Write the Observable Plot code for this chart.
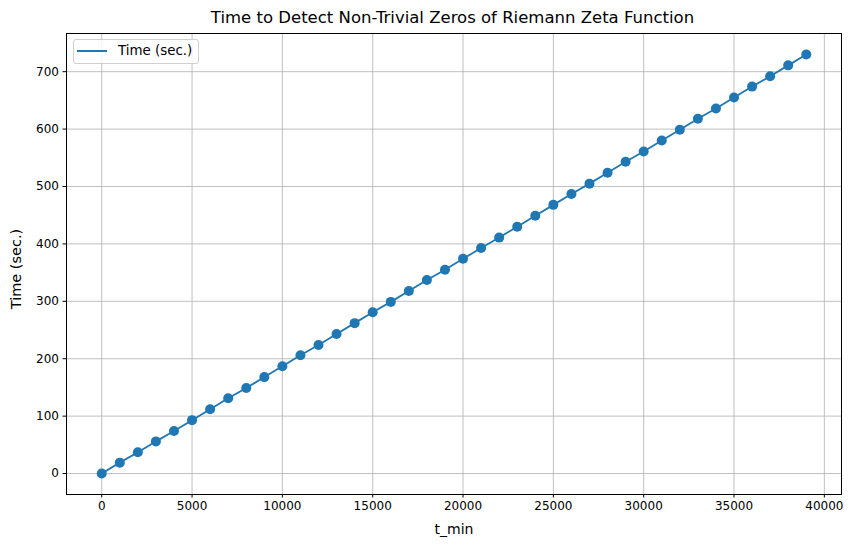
<!DOCTYPE html>
<html>
<head>
<meta charset="utf-8">
<script src="https://cdn.jsdelivr.net/npm/d3@7"></script>
<script src="https://cdn.jsdelivr.net/npm/@observablehq/plot@0.6"></script>
<style>
  body { margin: 0; background: #fff; font-family: "DejaVu Sans", sans-serif; }
  #wrap { position: relative; width: 855px; height: 547px; }
  #title { height: 26px; line-height: 35px; text-align: center; font-size: 16.5px; color: #000; padding-left: 50px; box-sizing: border-box; white-space: nowrap; }
  #legend { position: absolute; left: 73px; top: 39px; width: 126px; height: 25px; border: 1px solid #d0d0d0; border-radius: 3px; background: rgba(255,255,255,0.8); box-sizing: border-box; font-size: 13.4px; }
  #legend .sw { position: absolute; left: 3px; top: 10px; width: 30px; height: 2px; background: #1f77b4; }
  #legend .tx { position: absolute; left: 44px; top: 3px; white-space: nowrap; }
</style>
</head>
<body>
<div id="wrap">
  <div id="title">Time to Detect Non-Trivial Zeros of Riemann Zeta Function</div>
  <div id="chart"></div>
  <div id="legend"><div class="sw"></div><div class="tx">Time (sec.)</div></div>
</div>
<script>
const tMin = [0,1000,2000,3000,4000,5000,6000,7000,8000,9000,10000,11000,12000,13000,14000,15000,16000,17000,18000,19000,20000,21000,22000,23000,24000,25000,26000,27000,28000,29000,30000,31000,32000,33000,34000,35000,36000,37000,38000,39000];
const timeSec = [0,19,37,56,74,93,112,131,149,168,187,206,224,243,262,281,299,318,337,355,374,393,411,430,449,468,487,505,524,543,561,580,599,618,636,655,674,692,711,730];
const xTicks = [0,5000,10000,15000,20000,25000,30000,35000,40000];
const yTicks = [0,100,200,300,400,500,600,700];
const xLabel = "t_min";
const yLabel = "Time (sec.)";

const data = tMin.map((t, i) => ({t, v: timeSec[i]}));
const color = "#1f77b4";

const chart = Plot.plot({
  width: 855,
  height: 521,
  marginTop: 7,
  marginBottom: 53,
  marginLeft: 66,
  marginRight: 14,
  style: {fontFamily: "DejaVu Sans, sans-serif", fontSize: "12px", color: "#000", background: "#fff"},
  x: {domain: [-1950, 40950], label: null},
  y: {domain: [-36.5, 766.5], label: null},
  marks: [
    Plot.gridX(xTicks, {stroke: "#b0b0b0", strokeOpacity: 1, strokeWidth: 0.8}),
    Plot.gridY(yTicks, {stroke: "#b0b0b0", strokeOpacity: 1, strokeWidth: 0.8}),
    Plot.axisX(xTicks, {tickSize: 3.5, tickPadding: 3, fontSize: 12, label: null, tickFormat: d => String(d)}),
    Plot.axisY(yTicks, {tickSize: 3.5, tickPadding: 4, fontSize: 12, label: null, tickFormat: d => String(d)}),
    Plot.text([xLabel], {text: d => d, frameAnchor: "bottom", lineAnchor: "middle", textAnchor: "middle", dy: 35, fontSize: 14, fill: "#000"}),
    Plot.text([yLabel], {text: d => d, frameAnchor: "left", textAnchor: "middle", lineAnchor: "middle", dx: -50, dy: 5, rotate: -90, fontSize: 14.5, fill: "#000"}),
    Plot.line(data, {x: "t", y: "v", stroke: color, strokeWidth: 1.8}),
    Plot.dot(data, {x: "t", y: "v", r: 5, fill: color, stroke: "none"}),
    Plot.frame({stroke: "#000", strokeWidth: 1})
  ]
});
document.getElementById("chart").appendChild(chart);
</script>
</body>
</html>
